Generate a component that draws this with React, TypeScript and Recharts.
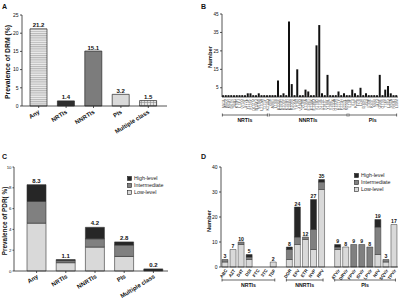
import React from 'react';
import { BarChart, Bar, XAxis, YAxis, Cell, LabelList, Legend } from 'recharts';

const FONT = '"Liberation Sans", Arial, Helvetica, sans-serif';

// ---------------- Panel A: prevalence of DRM by class ----------------
const drmClasses = ['Any', 'NRTIs', 'NNRTIs', 'PIs', 'Multiple class'];
const drmPrevalence = [21.2, 1.4, 15.1, 3.2, 1.5];
const drmTicks = [0, 5, 10, 15, 20, 25];

// ---------------- Panel B: mutation counts ----------------
const nrtiMutations = ['M41L', 'A62V', 'K65R', 'D67N', 'T69D', 'K70R', 'L74V', 'V75M', 'F77L', 'Y115F', 'F116Y', 'Q151M', 'M184V', 'M184I', 'L210W', 'T215Y', 'K219Q'];
const nrtiMutationCounts = [1, 1, 1, 1, 1, 1, 1, 1, 1, 2, 2, 1, 1, 2, 1, 1, 1];
const nnrtiMutations = ['V90I', 'A98G', 'L100I', 'K101E', 'K101H', 'K101P', 'K103R', 'K103N', 'K103S', 'V106A', 'V106I', 'V106M', 'V108I', 'E138A', 'E138G', 'E138K', 'E138Q', 'V179D', 'V179E', 'V179T', 'Y181C', 'Y188L', 'Y188C', 'G190A', 'G190S', 'H221Y', 'P225H', 'F227L', 'M230L'];
const nnrtiMutationCounts = [1, 1, 1, 9, 1, 2, 1, 41, 7, 1, 15, 1, 1, 4, 3, 1, 1, 28, 39, 2, 1, 12, 1, 1, 1, 3, 1, 2, 1];
const piMutations = ['L10F', 'V11I', 'K20T', 'L23I', 'L24I', 'D30N', 'V32I', 'L33F', 'K43T', 'M46I', 'I47V', 'Q58E', 'G73S', 'T74P', 'L76V', 'V82A', 'N83D', 'L90M'];
const piMutationCounts = [1, 4, 2, 1, 5, 1, 2, 1, 1, 1, 1, 12, 1, 4, 6, 2, 1, 1];
const mutationTicks = [0, 5, 10, 15, 20, 25, 30, 35, 40, 45];

// ---------------- Panel C: prevalence of PDR by level ----------------
const pdrClasses = ['Any', 'NRTIs', 'NNRTIs', 'PIs', 'Multiple class'];
const pdrLow = [4.6, 0.8, 2.3, 1.4, 0];
const pdrIntermediate = [2.1, 0.2, 0.8, 1.1, 0];
const pdrHigh = [1.6, 0.1, 1.1, 0.3, 0.2];
const pdrTicks = [0, 2, 4, 6, 8, 10];

// ---------------- Panel D: drugs affected by level ----------------
const nrtiDrugs = ['ABC', 'AZT', 'D4T', 'DDI', 'FTC', '3TC', 'TDF'];
const nrtiDrugLow = [2, 7, 9, 3, 0, 0, 2];
const nrtiDrugIntermediate = [1, 0, 1, 1, 0, 0, 0];
const nrtiDrugHigh = [0, 0, 0, 1, 0, 0, 0];
const nnrtiDrugs = ['DOR', 'EFV', 'ETR', 'NVP', 'RPV'];
const nnrtiDrugLow = [3, 9, 11, 7, 31];
const nnrtiDrugIntermediate = [4, 3, 1, 8, 3];
const nnrtiDrugHigh = [1, 12, 0, 12, 1];
const piDrugs = ['ATV/r', 'DRV/r', 'FPV/r', 'IDV/r', 'LPV/r', 'NFV', 'SQV/r', 'TPV/r'];
const piDrugLow = [7, 8, 0, 0, 0, 5, 2, 17];
const piDrugIntermediate = [1, 0, 9, 9, 8, 11, 1, 0];
const piDrugHigh = [1, 0, 0, 0, 0, 3, 0, 0];
const drugTicks = [0, 10, 20, 30, 40];

const levelLabels = { low: 'Low-level', inter: 'Intermediate', high: 'High-level' };
const legendOrder = ['High-level', 'Intermediate', 'Low-level'];
const groupNames = ['NRTIs', 'NNRTIs', 'PIs'];

// ---------------- tables built from the arrays ----------------
const dataA = drmClasses.map((name, i) => ({ name, value: drmPrevalence[i] }));

const mutationGroups = [
  [nrtiMutations, nrtiMutationCounts],
  [nnrtiMutations, nnrtiMutationCounts],
  [piMutations, piMutationCounts],
] as const;
const dataB: { name: string; count: number }[] = [];
const groupRangesB: [number, number][] = [];
mutationGroups.forEach(([names, counts]) => {
  const start = dataB.length;
  names.forEach((n, i) => dataB.push({ name: n, count: counts[i] }));
  groupRangesB.push([start, dataB.length - 1]);
});

// the stack total is shown on whichever segment is the topmost non-empty one
const stackRow = (name: string, low: number, inter: number, high: number, digits: number) => {
  const total = Math.round((low + inter + high) * 10 ** digits) / 10 ** digits;
  return {
    name, low, inter, high, total,
    topLow: low > 0 && inter === 0 && high === 0 ? total : null,
    topInter: inter > 0 && high === 0 ? total : null,
    topHigh: high > 0 ? total : null,
  };
};

const dataC = pdrClasses.map((name, i) => stackRow(name, pdrLow[i], pdrIntermediate[i], pdrHigh[i], 1));

const drugGroups = [
  [nrtiDrugs, nrtiDrugLow, nrtiDrugIntermediate, nrtiDrugHigh],
  [nnrtiDrugs, nnrtiDrugLow, nnrtiDrugIntermediate, nnrtiDrugHigh],
  [piDrugs, piDrugLow, piDrugIntermediate, piDrugHigh],
] as const;
const dataD: any[] = [];
const groupRangesD: [number, number][] = [];
drugGroups.forEach(([names, lo, mid, hi], g) => {
  if (g > 0) dataD.push(stackRow(' '.repeat(g), 0, 0, 0, 0));
  const start = dataD.length;
  names.forEach((n, i) => dataD.push(stackRow(n, lo[i], mid[i], hi[i], 0)));
  groupRangesD.push([start, dataD.length - 1]);
});

// ---------------- styles ----------------
const AX = '#2a2a2a';
const classFills = ['url(#aHatch)', '#2e2e2e', '#7c7c7c', '#dadada', 'url(#aGrid)'];
const levelFill = { low: '#d9d9d9', inter: '#808080', high: '#262626' };

// layout (plot areas)
const B_LEFT = 222, B_RIGHT = 398;
const D_LEFT = 221, D_RIGHT = 398;

const axisProps = { stroke: AX, strokeWidth: 0.8 };

const yTick = (fs: number) => ({ fontSize: fs, fill: '#111', fontFamily: FONT });

const slantTick = (fs: number, angle: number, dx: number, dy: number) => (props: any) => {
  const { x, y, payload } = props;
  const ax = x + dx;
  const ay = y + dy;
  return (
    <text x={ax} y={ay} transform={`rotate(${angle} ${ax} ${ay})`} textAnchor="end"
      fontSize={fs} fontWeight="bold" fontFamily={FONT} fill="#111">
      {payload.value}
    </text>
  );
};

const verticalTick = (props: any) => {
  const { x, y, payload } = props;
  const ax = x + 1.3;
  const ay = y;
  return (
    <text x={ax} y={ay} transform={`rotate(-90 ${ax} ${ay})`} textAnchor="end"
      fontSize={3.7} fontFamily={FONT} fill="#555">
      {payload.value}
    </text>
  );
};

const LevelLegend = (props: any) => {
  const items = [...(props.payload || [])].sort(
    (a: any, b: any) => legendOrder.indexOf(a.value) - legendOrder.indexOf(b.value)
  );
  return (
    <svg width={50} height={22} style={{ display: 'block' }}>
      {items.map((it: any, i: number) => (
        <g key={it.value}>
          <rect x={0.5} y={i * 7 + 0.5} width={4} height={4} fill={it.color} stroke="#222" strokeWidth={0.6} />
          <text x={7} y={i * 7 + 4.4} fontSize={5.3} fontFamily={FONT} fill="#222">{it.value}</text>
        </g>
      ))}
    </svg>
  );
};

const totalFormatter1 = (v: any) => (v ? Number(v).toFixed(1) : '');
const totalFormatter0 = (v: any) => (v ? String(v) : '');
const valueLabelStyle = { fontSize: 6, fontWeight: 'bold' as const, fill: '#111', fontFamily: FONT };
const valueLabelStyleD = { ...valueLabelStyle, fontSize: 5.2 };

function Bracket({ x1, x2, y, label }: { x1: number; x2: number; y: number; label: string }) {
  return (
    <g>
      <line x1={x1} y1={y} x2={x2} y2={y} stroke={AX} strokeWidth={0.7} />
      <line x1={x1} y1={y - 1.5} x2={x1} y2={y + 1.5} stroke={AX} strokeWidth={0.7} />
      <line x1={x2} y1={y - 1.5} x2={x2} y2={y + 1.5} stroke={AX} strokeWidth={0.7} />
      <text x={(x1 + x2) / 2} y={y + 6.5} textAnchor="middle" fontSize={5.2} fontWeight="bold" fontFamily={FONT} fill="#111">
        {label}
      </text>
    </g>
  );
}

export default function App() {
  const pitchB = (B_RIGHT - B_LEFT) / dataB.length;
  const centreB = (i: number) => B_LEFT + (i + 0.5) * pitchB;
  const pitchD = (D_RIGHT - D_LEFT) / dataD.length;
  const centreD = (i: number) => D_LEFT + (i + 0.5) * pitchD;

  return (
    <div style={{ position: 'absolute', left: 0, top: 0, width: 400, height: 301, background: '#fff', fontFamily: FONT, overflow: 'hidden' }}>
      {/* Panel A */}
      <div style={{ position: 'absolute', left: 0, top: 0 }}>
        <BarChart width={200} height={150} data={dataA} margin={{ top: 15, right: 33, left: 0, bottom: 0 }}>
          <defs>
            <pattern id="aHatch" width="4" height="2.2" patternUnits="userSpaceOnUse">
              <rect width="4" height="2.2" fill="#ededed" />
              <line x1="0" y1="0.6" x2="4" y2="0.6" stroke="#8a8a8a" strokeWidth="0.7" />
            </pattern>
            <pattern id="aGrid" width="3" height="3" patternUnits="userSpaceOnUse">
              <rect width="3" height="3" fill="#e4e4e4" />
              <path d="M0 0.5H3M0.5 0V3" stroke="#8c8c8c" strokeWidth="0.6" />
            </pattern>
          </defs>
          <XAxis dataKey="name" height={44} padding={{ left: 3, right: 5 }} axisLine={axisProps}
            tickLine={axisProps} tickSize={2} tickMargin={2} interval={0} tick={slantTick(6, -32, 1.5, 3)} />
          <YAxis width={22} domain={[0, 25]} ticks={drmTicks} axisLine={axisProps} tickLine={axisProps}
            tickSize={2} tickMargin={1.5} tick={yTick(5)} />
          <Bar dataKey="value" barSize={17} stroke="#2a2a2a" strokeWidth={0.7} isAnimationActive={false}>
            {dataA.map((d, i) => (
              <Cell key={d.name} fill={classFills[i]} />
            ))}
            <LabelList dataKey="value" position="top" offset={1.5} style={valueLabelStyle} formatter={totalFormatter1} />
          </Bar>
        </BarChart>
      </div>

      {/* Panel B */}
      <div style={{ position: 'absolute', left: 200, top: 0 }}>
        <BarChart width={200} height={150} data={dataB} margin={{ top: 14, right: 2, left: 0, bottom: 0 }}>
          <XAxis dataKey="name" height={53} axisLine={axisProps} tickLine={false} tickSize={0} tickMargin={2}
            interval={0} tick={verticalTick} />
          <YAxis width={22} domain={[0, 45]} ticks={mutationTicks} axisLine={axisProps} tickLine={axisProps}
            tickSize={2} tickMargin={1.5} tick={yTick(4.6)} />
          <Bar dataKey="count" barSize={2} fill="#111" isAnimationActive={false} />
        </BarChart>
      </div>

      {/* Panel C */}
      <div style={{ position: 'absolute', left: 0, top: 150 }}>
        <BarChart width={200} height={151} data={dataC} margin={{ top: 17, right: 32, left: 0, bottom: 0 }}>
          <XAxis dataKey="name" height={30} padding={{ left: 8, right: 0 }} axisLine={axisProps}
            tickLine={axisProps} tickSize={2} tickMargin={2} interval={0} tick={slantTick(6, -32, 2, 2.5)} />
          <YAxis width={14} domain={[0, 10]} ticks={pdrTicks} axisLine={axisProps} tickLine={axisProps}
            tickSize={1.5} tickMargin={1} tick={yTick(4.3)} />
          <Legend content={LevelLegend} layout="horizontal" verticalAlign="middle" align="center"
            wrapperStyle={{ position: 'absolute', left: 127, top: 26, width: 50, height: 22 }} />
          <Bar dataKey="low" name={levelLabels.low} stackId="s" barSize={19} fill={levelFill.low} stroke="#333" strokeWidth={0.6} isAnimationActive={false}>
            <LabelList dataKey="topLow" position="top" offset={2} style={valueLabelStyle} formatter={totalFormatter1} />
          </Bar>
          <Bar dataKey="inter" name={levelLabels.inter} stackId="s" barSize={19} fill={levelFill.inter} stroke="#333" strokeWidth={0.6} isAnimationActive={false}>
            <LabelList dataKey="topInter" position="top" offset={2} style={valueLabelStyle} formatter={totalFormatter1} />
          </Bar>
          <Bar dataKey="high" name={levelLabels.high} stackId="s" barSize={19} fill={levelFill.high} stroke="#333" strokeWidth={0.6} isAnimationActive={false}>
            <LabelList dataKey="topHigh" position="top" offset={2} style={valueLabelStyle} formatter={totalFormatter1} />
          </Bar>
        </BarChart>
      </div>

      {/* Panel D */}
      <div style={{ position: 'absolute', left: 200, top: 150 }}>
        <BarChart width={200} height={151} data={dataD} margin={{ top: 17, right: 2, left: 0, bottom: 0 }}>
          <XAxis dataKey="name" height={34} axisLine={axisProps} tickLine={false} tickSize={0} tickMargin={2}
            interval={0} tick={slantTick(4.4, -55, 2.5, 1.5)} />
          <YAxis width={21} domain={[0, 40]} ticks={drugTicks} axisLine={axisProps} tickLine={axisProps}
            tickSize={2} tickMargin={1.5} tick={yTick(5)} />
          <Legend content={LevelLegend} layout="horizontal" verticalAlign="middle" align="center"
            wrapperStyle={{ position: 'absolute', left: 154, top: 23, width: 50, height: 22 }} />
          <Bar dataKey="low" name={levelLabels.low} stackId="s" barSize={6} fill={levelFill.low} stroke="#333" strokeWidth={0.5} isAnimationActive={false}>
            <LabelList dataKey="topLow" position="top" offset={1.5} style={valueLabelStyleD} formatter={totalFormatter0} />
          </Bar>
          <Bar dataKey="inter" name={levelLabels.inter} stackId="s" barSize={6} fill={levelFill.inter} stroke="#333" strokeWidth={0.5} isAnimationActive={false}>
            <LabelList dataKey="topInter" position="top" offset={1.5} style={valueLabelStyleD} formatter={totalFormatter0} />
          </Bar>
          <Bar dataKey="high" name={levelLabels.high} stackId="s" barSize={6} fill={levelFill.high} stroke="#333" strokeWidth={0.5} isAnimationActive={false}>
            <LabelList dataKey="topHigh" position="top" offset={1.5} style={valueLabelStyleD} formatter={totalFormatter0} />
          </Bar>
        </BarChart>
      </div>

      {/* Annotations: panel letters, axis titles, group brackets */}
      <svg width={400} height={301} style={{ position: 'absolute', left: 0, top: 0, pointerEvents: 'none' }}>
        <g fontFamily={FONT} fontWeight="bold" fill="#111">
          <text x={2} y={9} fontSize={7}>A</text>
          <text x={201} y={9} fontSize={7}>B</text>
          <text x={2} y={159} fontSize={7}>C</text>
          <text x={201} y={159} fontSize={7}>D</text>
          <text x={9.5} y={62} fontSize={6.8} textAnchor="middle" transform="rotate(-90 9.5 62)">Prevalence of DRM (%)</text>
          <text x={212} y={57} fontSize={5.8} textAnchor="middle" transform="rotate(-90 212 57)">Number</text>
          <text x={7} y={221} fontSize={6.4} textAnchor="middle" transform="rotate(-90 7 221)">Prevalence of PDR( %)</text>
          <text x={211} y={221} fontSize={5.8} textAnchor="middle" transform="rotate(-90 211 221)">Number</text>
        </g>
        {groupRangesB.map(([s, e], g) => (
          <Bracket key={'b' + g} x1={centreB(s) - 1} x2={centreB(e)} y={115} label={groupNames[g]} />
        ))}
        {groupRangesD.map(([s, e], g) => (
          <Bracket key={'d' + g} x1={centreD(s) - 3} x2={centreD(e) + 1.5} y={280} label={groupNames[g]} />
        ))}
      </svg>
    </div>
  );
}
